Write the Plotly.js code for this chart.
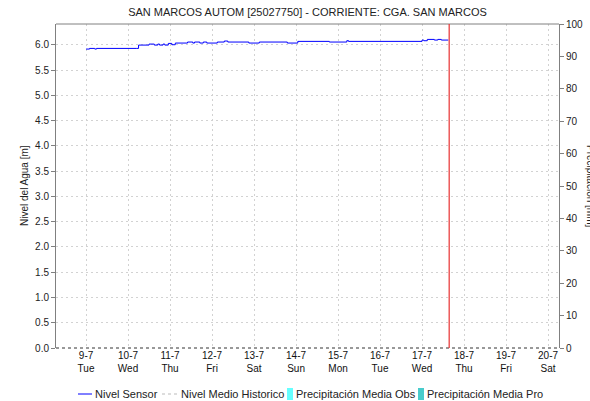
<!DOCTYPE html>
<html>
<head>
<meta charset="utf-8">
<script src="https://cdn.plot.ly/plotly-3.0.1.min.js"></script>
<style>html,body{margin:0;padding:0;background:#fff;}#chart{width:590px;height:401px;}</style>
</head>
<body>
<div id="chart"></div>
<script>
// ---- data ----
const sensorTimes = [
  '2024-07-09 00:00','2024-07-09 02:00','2024-07-09 05:00','2024-07-09 06:00',
  '2024-07-10 05:00','2024-07-10 06:00','2024-07-10 12:00','2024-07-10 15:00',
  '2024-07-10 17:00','2024-07-10 18:00','2024-07-10 20:00','2024-07-10 21:00',
  '2024-07-10 23:00','2024-07-11 01:00','2024-07-11 03:00','2024-07-11 10:00',
  '2024-07-11 13:00','2024-07-11 14:00','2024-07-11 17:00','2024-07-11 19:00',
  '2024-07-11 21:00','2024-07-12 03:00','2024-07-12 07:00','2024-07-12 09:00',
  '2024-07-12 21:00','2024-07-13 03:00','2024-07-13 19:00','2024-07-14 01:00',
  '2024-07-14 19:00','2024-07-15 05:00','2024-07-15 06:00','2024-07-17 00:00',
  '2024-07-17 01:00','2024-07-17 03:00','2024-07-17 07:00','2024-07-17 09:00',
  '2024-07-17 11:00','2024-07-17 15:00'
];
const sensorLevel = [
  5.914,5.927,5.914,5.927,
  5.927,5.993,6.013,5.993,
  6.013,5.993,6.013,5.993,
  6.026,6.000,6.033,6.053,
  6.033,6.053,6.033,6.053,
  6.033,6.053,6.073,6.053,
  6.033,6.053,6.033,6.066,
  6.053,6.080,6.066,6.092,
  6.079,6.105,6.092,6.105,
  6.092,6.092
];
const historicTimes = [];
const historicLevel = [];
const precipObsDays = ['2024-07-09','2024-07-10','2024-07-11','2024-07-12','2024-07-13','2024-07-14','2024-07-15','2024-07-16','2024-07-17'];
const precipObs = [0,0,0,0,0,0,0,0,0];
const precipProDays = ['2024-07-18','2024-07-19','2024-07-20'];
const precipPro = [0,0,0];
const dayTicks = ['2024-07-09','2024-07-10','2024-07-11','2024-07-12','2024-07-13','2024-07-14','2024-07-15','2024-07-16','2024-07-17','2024-07-18','2024-07-19','2024-07-20'];
const dayLabels = ['9-7<br>Tue','10-7<br>Wed','11-7<br>Thu','12-7<br>Fri','13-7<br>Sat','14-7<br>Sun','15-7<br>Mon','16-7<br>Tue','17-7<br>Wed','18-7<br>Thu','19-7<br>Fri','20-7<br>Sat'];
const levelTicks = [0,0.5,1,1.5,2,2.5,3,3.5,4,4.5,5,5.5,6];
const levelTickText = ['0.0','0.5','1.0','1.5','2.0','2.5','3.0','3.5','4.0','4.5','5.0','5.5','6.0'];
const precipTicks = [0,10,20,30,40,50,60,70,80,90,100];
const nowTime = '2024-07-17 15:30';
const legendNames = ['Nivel Sensor','Nivel Medio Historico','Precipitación Media Obs','Precipitación Media Pro'];

// ---- layout helpers ----
const W = 590, H = 401, L = 56, R = 31, T = 24, B = 53;
const pw = W - L - R, ph = H - T - B;
const px = x => (x - L) / pw;
const py = y => (H - B - y) / ph;
const FONT = 'Liberation Sans, Arial, sans-serif';
const GRID = '#d2d2d2';

const traces = [
  {type:'bar', x:precipObsDays, y:precipObs, yaxis:'y2', name:legendNames[2],
   marker:{color:'#66ffff', line:{width:0}}, showlegend:false, hoverinfo:'skip'},
  {type:'bar', x:precipProDays, y:precipPro, yaxis:'y2', name:legendNames[3],
   marker:{color:'#48cccc', line:{width:0}}, showlegend:false, hoverinfo:'skip'},
  {type:'scatter', mode:'lines', x:historicTimes, y:historicLevel, name:legendNames[1],
   line:{color:'#bbbbbb', dash:'dot', width:1}, showlegend:false},
  {type:'scatter', mode:'lines', x:sensorTimes, y:sensorLevel, name:legendNames[0],
   line:{color:'#0000ff', width:1, shape:'hv'}, showlegend:false}
];

const ly = py(394);
const shapes = [
  {type:'line', xref:'paper', yref:'paper', x0:0, x1:1, y0:1, y1:1, line:{color:'#808080', width:1}},
  {type:'line', xref:'paper', yref:'paper', x0:0, x1:1, y0:0, y1:0, line:{color:'#333333', width:1, dash:'dot'}},
  {type:'line', xref:'x', yref:'paper', x0:nowTime, x1:nowTime, y0:0, y1:1, line:{color:'#e83030', width:1.2}},
  {type:'line', xref:'paper', yref:'paper', x0:px(78), x1:px(92), y0:ly, y1:ly, line:{color:'#0000ff', width:1}},
  {type:'line', xref:'paper', yref:'paper', x0:px(162), x1:px(178), y0:ly, y1:ly, line:{color:'#bbbbbb', width:1.2, dash:'dot'}},
  {type:'rect', xref:'paper', yref:'paper', x0:px(287), x1:px(293), y0:py(400), y1:py(388), line:{width:0}, fillcolor:'#66ffff'},
  {type:'rect', xref:'paper', yref:'paper', x0:px(418), x1:px(424), y0:py(400), y1:py(388), line:{width:0}, fillcolor:'#48cccc'}
];

const legAnn = (x, t) => ({xref:'paper', yref:'paper', x:px(x), y:ly, xanchor:'left', yanchor:'middle',
  text:t, showarrow:false, font:{family:FONT, size:11, color:'#222'}});

const annotations = [
  legAnn(93, legendNames[0]), legAnn(179, legendNames[1]),
  legAnn(294, legendNames[2]), legAnn(425, legendNames[3]),
  {xref:'paper', yref:'paper', x:px(24), y:py(186), xanchor:'center', yanchor:'middle', textangle:-90,
   text:'Nivel del Agua [m]', showarrow:false, font:{family:FONT, size:10, color:'#222'}},
  {xref:'paper', yref:'paper', x:px(591), y:py(186), xanchor:'center', yanchor:'middle', textangle:90,
   text:'Precipitación [mm]', showarrow:false, font:{family:FONT, size:10, color:'#222'}}
];

const layout = {
  width:W, height:H, margin:{l:L, r:R, t:T, b:B, pad:0},
  paper_bgcolor:'#ffffff', plot_bgcolor:'#ffffff',
  showlegend:false, barmode:'overlay',
  font:{family:FONT, size:10, color:'#222'},
  title:{text:'SAN MARCOS AUTOM [25027750] - CORRIENTE: CGA. SAN MARCOS', x:px(307.5), xref:'paper', xanchor:'center',
         y:1-12/H, yanchor:'middle', font:{family:FONT, size:11, color:'#222'}},
  xaxis:{type:'date', range:['2024-07-08 06:50','2024-07-20 06:15'], tickmode:'array', tickvals:dayTicks, ticktext:dayLabels,
         showgrid:true, gridcolor:GRID, griddash:'2px,3px', gridwidth:1, zeroline:false, showline:false,
         ticks:'', tickfont:{family:FONT, size:10, color:'#111'}},
  yaxis:{range:[0,6.41], tickmode:'array', tickvals:levelTicks, ticktext:levelTickText,
         showgrid:true, gridcolor:GRID, griddash:'2px,3px', gridwidth:1, zeroline:false,
         showline:true, linecolor:'#808080', linewidth:1, ticks:'outside', ticklen:4, tickcolor:'#808080',
         tickfont:{family:FONT, size:10, color:'#222'}},
  yaxis2:{range:[0,100], overlaying:'y', side:'right', tickmode:'array', tickvals:precipTicks,
          showgrid:false, zeroline:false, showline:true, linecolor:'#808080', linewidth:1,
          ticks:'outside', ticklen:4, tickcolor:'#808080', tickfont:{family:FONT, size:10, color:'#222'}},
  shapes:shapes, annotations:annotations
};

Plotly.newPlot('chart', traces, layout, {staticPlot:true, displayModeBar:false});
</script>
</body>
</html>
